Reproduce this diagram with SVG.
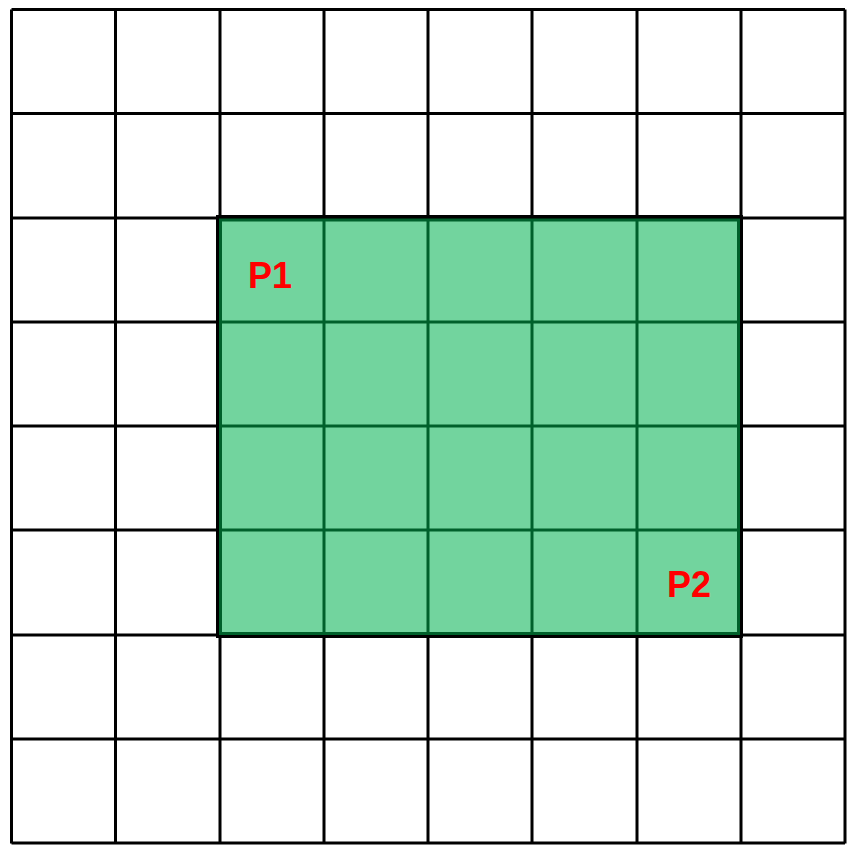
<svg xmlns="http://www.w3.org/2000/svg" width="853" height="851" viewBox="0 0 853 851">
<style>
.g{stroke:#000;stroke-width:3;fill:none}
.ig{stroke:#00602B;stroke-width:3;fill:none}
.lbl{font-family:"Liberation Sans",Arial,sans-serif;font-weight:bold;font-size:36px;fill:#FF0000;text-anchor:middle}
</style>
<rect width="853" height="851" fill="#fff"/>
<g id="grid">
<path class="g" d="M11.5 9.5V843.5M115.5 9.5V843.5M220 9.5V843.5M324 9.5V843.5M428 9.5V843.5M532 9.5V843.5M637 9.5V843.5M741 9.5V843.5M845 9.5V843.5M11.5 9.5H845M11.5 113.5H845M11.5 218H845M11.5 322H845M11.5 426H845M11.5 530H845M11.5 635H845M11.5 739H845M11.5 843H845"/>
</g>
<g id="region">
<path class="g" d="M217.5 216.5H741.5V636.5H217.5Z"/>
<rect x="220.5" y="220" width="518" height="413.5" fill="#72D49E" stroke="#00602B" stroke-width="3"/>
<path class="ig" d="M324 220V633.5M428 220V633.5M532 220V633.5M637 220V633.5M220.5 322H738.5M220.5 426H738.5M220.5 530H738.5"/>
</g>
<g id="p1"><text class="lbl" x="270" y="288">P1</text></g>
<g id="p2"><text class="lbl" x="689" y="597">P2</text></g>
</svg>
